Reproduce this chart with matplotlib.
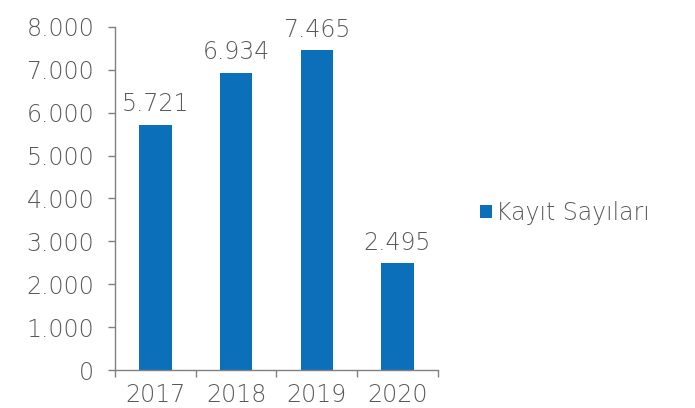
import matplotlib.pyplot as plt
import numpy as np

years = ['2017', '2018', '2019', '2020']
kayit = [5721, 6934, 7465, 2495]
y_ticks = [0, 1000, 2000, 3000, 4000, 5000, 6000, 7000, 8000]


def tr_fmt(v):
    # Turkish thousands separator
    return f"{int(v):,}".replace(',', '.')


plt.rcParams['font.family'] = ['DejaVu Sans']
plt.rcParams['font.weight'] = 'light'
text_color = '#595959'
bar_color = '#0B70B9'
fs = 17

fig = plt.figure(figsize=(6.95, 4.08), dpi=100)
ax = fig.add_axes([0.1655, 0.093, 0.4645, 0.841])

x = np.arange(len(years))
bars = ax.bar(x, kayit, width=0.4, color=bar_color, label='Kayıt Sayıları')

for xi, v in zip(x, kayit):
    ax.annotate(tr_fmt(v), (xi, v), textcoords='offset points', xytext=(0, 6),
                ha='center', va='bottom', fontsize=fs, color=text_color)

ax.set_xlim(-0.5, len(years) - 0.5)
ax.set_ylim(0, 8000)
ax.set_yticks(y_ticks)
ax.set_yticklabels([tr_fmt(t) for t in y_ticks])
ax.set_xticks(x)
ax.set_xticklabels(years)
ax.set_xticks(np.arange(-0.5, len(years)), minor=True)

ax.tick_params(axis='x', which='major', length=0, pad=9, labelsize=fs, labelcolor=text_color)
ax.tick_params(axis='x', which='minor', length=5, color='#808080', width=1)
ax.tick_params(axis='y', length=5, color='#808080', width=1, pad=10, labelsize=fs, labelcolor=text_color)

for side in ['top', 'right']:
    ax.spines[side].set_visible(False)
for side in ['left', 'bottom']:
    ax.spines[side].set_color('#808080')
    ax.spines[side].set_linewidth(1)

fig.legend(handles=[bars], labels=['Kayıt Sayıları'], loc='center left',
           bbox_to_anchor=(0.66, 0.478), frameon=False, fontsize=fs,
           labelcolor=text_color, handlelength=0.5, handleheight=0.5,
           handletextpad=0.2)

fig.savefig('out.png', dpi=100)
